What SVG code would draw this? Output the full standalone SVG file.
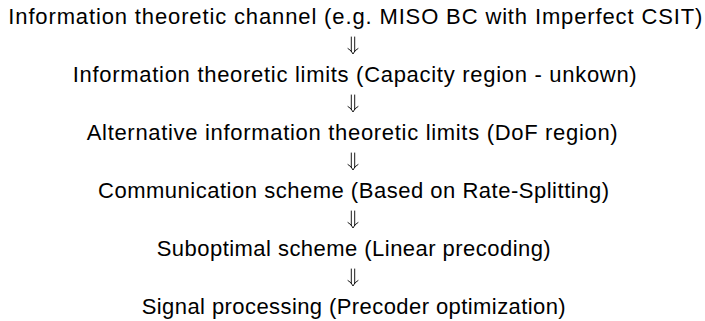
<svg xmlns="http://www.w3.org/2000/svg" width="705" height="321" viewBox="0 0 705 321">
<defs>
<style>
.t{font-family:"Liberation Sans","DejaVu Sans",sans-serif;font-size:22px;fill:#000}
.a{fill:none;stroke:#000;stroke-width:0.9;stroke-linecap:round;stroke-linejoin:round}
</style>
<path id="arr" d="M351.3 0 V14.5 M354.7 0 V14.5 M348 11.5 Q351.6 13.4 353 17 Q354.4 13.4 358 11.5"/>
</defs>
<rect width="705" height="321" fill="#fff"/>
<g id="n1"><text class="t" x="8.3" y="24" textLength="694">Information theoretic channel (e.g. MISO BC with Imperfect CSIT)</text></g>
<g id="n2"><text class="t" x="72.7" y="82" textLength="564">Information theoretic limits (Capacity region - unkown)</text></g>
<g id="n3"><text class="t" x="86.7" y="140" textLength="531">Alternative information theoretic limits (DoF region)</text></g>
<g id="n4"><text class="t" x="98" y="198" textLength="511">Communication scheme (Based on Rate-Splitting)</text></g>
<g id="n5"><text class="t" x="156.7" y="256" textLength="394">Suboptimal scheme (Linear precoding)</text></g>
<g id="n6"><text class="t" x="141.7" y="314" textLength="424">Signal processing (Precoder optimization)</text></g>
<g id="connectors" class="a">
<use href="#arr" transform="translate(0,37)"/>
<use href="#arr" transform="translate(0,95)"/>
<use href="#arr" transform="translate(0,153)"/>
<use href="#arr" transform="translate(0,211)"/>
<use href="#arr" transform="translate(0,269)"/>
</g>
</svg>
